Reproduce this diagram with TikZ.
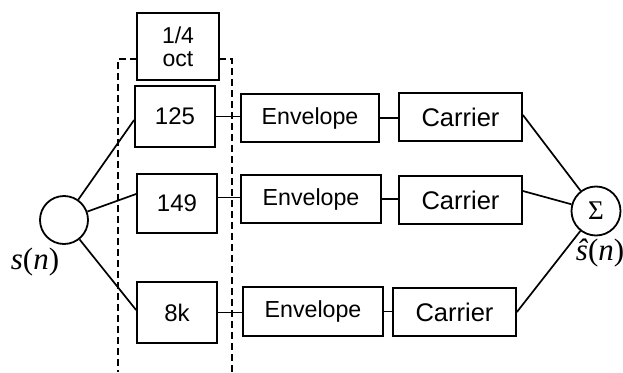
\documentclass[tikz,border=0pt]{standalone}
\usepackage{fontspec}
\setmainfont{Liberation Sans}
\newfontfamily\serifx{Liberation Serif}
\begin{document}
\begin{tikzpicture}[x=1pt,y=-1pt,
  box/.style={draw,line width=1.8pt,fill=white,inner sep=0pt,align=center},
  conn/.style={line width=1.7pt},
  dashline/.style={line width=2.6pt,dash pattern=on 7pt off 4pt},
  circ/.style={draw,circle,line width=1.8pt,inner sep=0pt},
  envf/.style={font=\fontsize{23.2}{25}\selectfont},
  carf/.style={font=\fontsize{25.5}{27}\selectfont},
  numf/.style={font=\fontsize{24}{26}\selectfont}]
\useasboundingbox (0,0) rectangle (623,372);
% dashed frame
\draw[dashline] (137,59) -- (118,59) -- (118,372);
\draw[dashline] (219,59) -- (232,59) -- (232,372);
% boxes
\node[box,minimum width=82pt,minimum height=67pt,font=\fontsize{23}{23}\selectfont] (oct) at (178,46.5) {1/4\\oct};
\node[box,numf,minimum width=80pt,minimum height=61pt] (b125) at (175,116.5) {125};
\node[box,numf,minimum width=80pt,minimum height=59pt] (b149) at (177,203.5) {149};
\node[box,numf,minimum width=80pt,minimum height=61pt] (b8k) at (177,312.5) {8k};
\node[box,envf,minimum width=138pt,minimum height=48pt] (e1) at (310,118) {Envelope};
\node[box,envf,minimum width=140pt,minimum height=48pt] (e2) at (311,199) {Envelope};
\node[box,envf,minimum width=140pt,minimum height=49pt] (e3) at (313,311.5) {Envelope};
\node[box,carf,minimum width=123pt,minimum height=48pt] (c1) at (460.5,117) {Carrier};
\node[box,carf,minimum width=123pt,minimum height=48pt] (c2) at (460.5,200) {Carrier};
\node[box,carf,minimum width=123pt,minimum height=48pt] (c3) at (454.5,312) {Carrier};
% circles
\node[circ,minimum size=49pt,font=\serifx\fontsize{27}{29}\selectfont] (sum) at (596,211) {Σ};
\node[circ,minimum size=48pt] (src) at (64,220) {};
\node[font=\serifx\fontsize{31}{33}\selectfont] (sl) at (35,262) {\textit{s}(\textit{n})};
\node[font=\serifx\fontsize{31}{33}\selectfont] (shl) at (600,253) {\textit{\^{s}}(\textit{n})};
% connectors
\draw[conn] (src) -- ([yshift=-3.5pt]b125.west);
\draw[conn] (src) -- ([yshift=9.5pt]b149.west);
\draw[conn] (src) -- ([yshift=2.5pt]b8k.west);
\draw[conn] (b125.east) -- (b125.east -| e1.west);
\draw[conn] ([yshift=6pt]b149.east) coordinate (t2) -- (t2 -| e2.west);
\draw[conn] (b8k.east) -- (b8k.east -| e3.west);
\draw[conn] (e1.east) -- (e1.east -| c1.west);
\draw[conn] (e2.east) -- (e2.east -| c2.west);
\draw[conn] (e3.east) -- (e3.east -| c3.west);
\draw[conn] ([yshift=2pt]c1.east) -- (sum);
\draw[conn] ([yshift=9pt]c2.east) -- (sum);
\draw[conn] (c3.east) -- (sum);
\end{tikzpicture}
\end{document}
